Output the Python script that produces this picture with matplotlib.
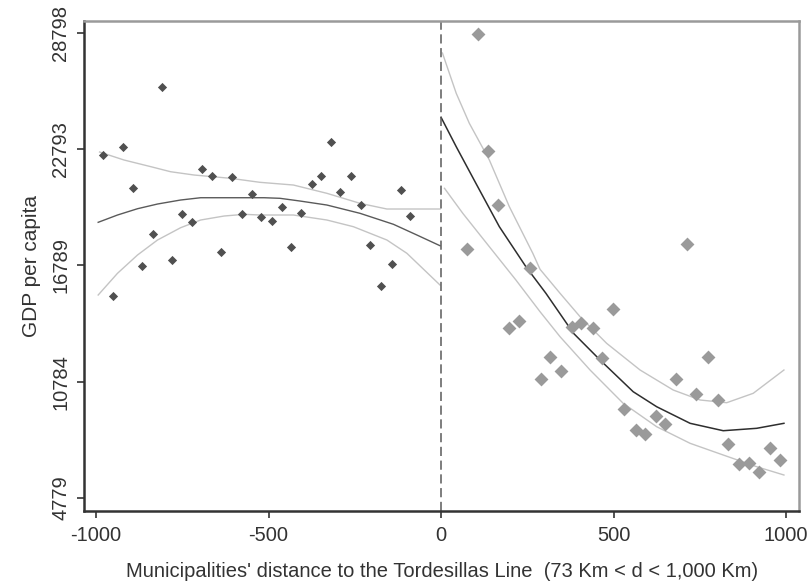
import matplotlib
matplotlib.use("Agg")
import matplotlib.pyplot as plt

plt.rcParams['font.family'] = ['Liberation Sans', 'DejaVu Sans']

# binned municipality averages, west (negative) and east (positive) of the line
left_x = [-981, -950, -921, -894, -868, -834, -808, -781, -752, -721, -694, -663,
          -638, -605, -576, -549, -522, -489, -462, -435, -406, -375, -348, -319,
          -292, -261, -232, -205, -174, -143, -116, -89]
left_y = [22492, 15210, 22905, 20803, 16775, 18427, 25988, 17085, 19460, 19047,
          21769, 21423, 17467, 21355, 19460, 20462, 19305, 19099, 19791, 17756,
          19481, 21009, 21423, 23178, 20565, 21423, 19910, 17828, 15742, 16878,
          20669, 19326]

right_x = [75, 106, 137, 166, 197, 227, 258, 290, 316, 348, 379, 405, 440, 468,
           498, 530, 564, 591, 622, 649, 680, 713, 738, 773, 804, 833, 864, 893,
           922, 955, 982]
right_y = [17637, 28724, 22714, 19910, 13542, 13935, 16672, 10924, 12060, 11337,
           13625, 13832, 13542, 12024, 14539, 9390, 8306, 8068, 9029, 8585,
           10924, 17911, 10165, 12060, 9855, 7552, 6519, 6586, 6106, 7345, 6726]

# fitted polynomial and confidence band, each side
left_fit_x = [-994, -938, -880, -822, -755, -697, -629, -513, -467, -409, -331,
              -235, -138, -70, -3]
left_fit = [19019, 19396, 19721, 19964, 20171, 20289, 20289, 20289, 20259, 20119,
            19912, 19484, 18916, 18363, 17810]
left_up_x = [-990, -919, -841, -784, -716, -610, -525, -428, -331, -235, -157, -3]
left_up = [22650, 22237, 21891, 21632, 21462, 21291, 21085, 20945, 20517, 20000,
           19706, 19706]
left_lo_x = [-994, -938, -880, -822, -755, -697, -629, -571, -525, -428, -331,
             -254, -157, -99, -3]
left_lo = [15264, 16385, 17330, 18105, 18740, 19138, 19344, 19432, 19396, 19396,
           19138, 18792, 18105, 17418, 15780]

right_fit_x = [0, 44, 101, 169, 246, 304, 384, 461, 557, 625, 722, 818, 915, 994]
right_fit = [24442, 22924, 21033, 18792, 16726, 15352, 13286, 11907, 10269, 9495,
             8637, 8255, 8379, 8637]
right_up_x = [4, 44, 82, 140, 198, 266, 287, 345, 403, 480, 577, 673, 751, 828,
              905, 994]
right_up = [27763, 25682, 24132, 22237, 19825, 17418, 16591, 15352, 14143, 12769,
            11390, 10357, 9841, 9701, 10187, 11390]
right_lo_x = [10, 63, 140, 217, 287, 345, 432, 528, 625, 722, 818, 915, 994]
right_lo = [20775, 19484, 17759, 16039, 14401, 13110, 11390, 9670, 8462, 7604,
            7000, 6396, 5967]

x_ticks = [-1000, -500, 0, 500, 1000]
y_ticks = [4779, 10784, 16789, 22793, 28798]

fig = plt.figure(figsize=(8.08, 5.84), dpi=100)
ax = fig.add_axes([0.104, 0.125, 0.885, 0.839])

ax.plot(left_up_x, left_up, color='#c4c4c4', lw=1.0)
ax.plot(left_lo_x, left_lo, color='#c4c4c4', lw=1.0)
ax.plot(left_fit_x, left_fit, color='#5a5a5a', lw=1.0)
ax.plot(right_up_x, right_up, color='#c4c4c4', lw=1.0)
ax.plot(right_lo_x, right_lo, color='#c4c4c4', lw=1.0)
ax.plot(right_fit_x, right_fit, color='#2e2e2e', lw=1.1)

ax.scatter(left_x, left_y, marker='D', s=22, color='#505050', zorder=3, linewidths=0)
ax.scatter(right_x, right_y, marker='D', s=50, color='#9a9a9a', zorder=3, linewidths=0)

ax.axvline(0, color='#5a5a5a', lw=1.1, dashes=(6, 3))

ax.set_xlim(-1035, 1038)
ax.set_ylim(4108, 29416)
ax.set_xticks(x_ticks)
ax.set_xticklabels([str(t) for t in x_ticks])
ax.set_yticks(y_ticks)
ax.set_yticklabels([str(t) for t in y_ticks], rotation=90, va='center')

ax.tick_params(axis='both', colors='#333333', labelsize=14.5, length=5, width=1.2)
ax.tick_params(axis='x', pad=6)
ax.tick_params(axis='y', pad=5)

for side in ['left', 'bottom']:
    ax.spines[side].set_color('#333333')
    ax.spines[side].set_linewidth(1.8)
for side in ['top', 'right']:
    ax.spines[side].set_color('#9a9a9a')
    ax.spines[side].set_linewidth(1.8)

ax.set_ylabel('GDP per capita', fontsize=15, color='#333333', labelpad=7)
ax.set_xlabel("Municipalities' distance to the Tordesillas Line  (73 Km < d < 1,000 Km)",
              fontsize=14.5, color='#333333', labelpad=12)

fig.savefig('out.png', dpi=100, facecolor='white')
